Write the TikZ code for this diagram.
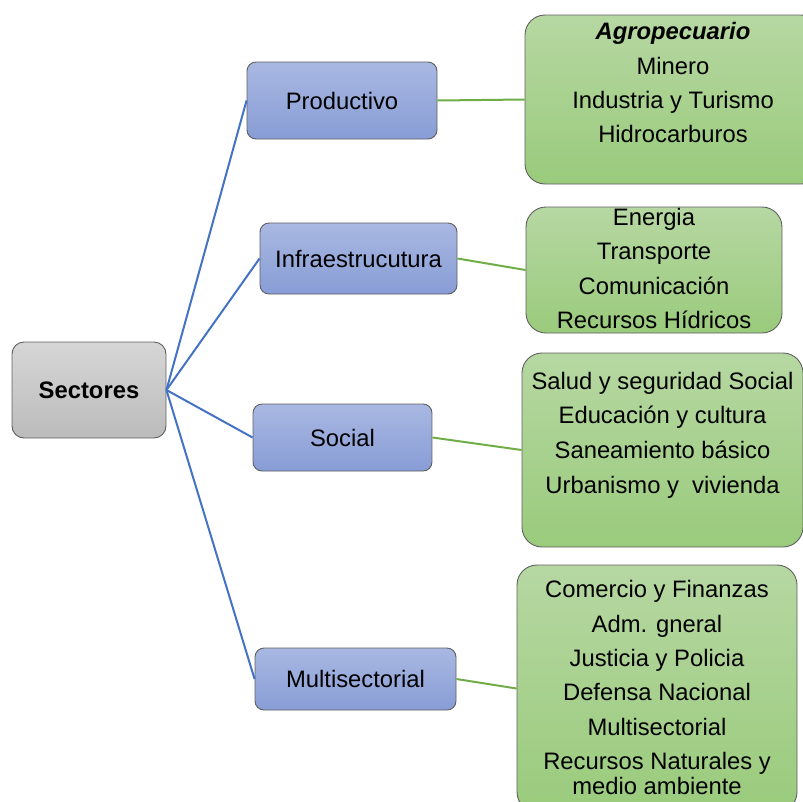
\documentclass[tikz,border=0pt]{standalone}
\usepackage{fontspec}
\setmainfont{Liberation Sans}
\definecolor{bluetop}{HTML}{A9B8E2}
\definecolor{bluebot}{HTML}{889DD6}
\definecolor{greytop}{HTML}{D6D6D6}
\definecolor{greybot}{HTML}{BBBBBB}
\definecolor{greentop}{HTML}{B6D7A2}
\definecolor{greenbot}{HTML}{9ACB7C}
\definecolor{boxline}{HTML}{5F5F5F}
\definecolor{bluelink}{HTML}{4472C4}
\definecolor{greenlink}{HTML}{70AD47}
\begin{document}
\begin{tikzpicture}[x=1pt,y=-1pt,
  boxbase/.style={draw=boxline, line width=0.9pt, inner sep=0pt},
  bluebox/.style={boxbase, rounded corners=9pt, top color=bluetop, bottom color=bluebot,
    font=\fontsize{23.8}{28}\selectfont},
  greybox/.style={boxbase, rounded corners=12pt, top color=greytop, bottom color=greybot,
    font=\fontsize{23.8}{28}\selectfont\bfseries},
  greenbox/.style={boxbase, rounded corners=20pt, top color=greentop, bottom color=greenbot},
  txt/.style={inner sep=0pt, anchor=base, font=\fontsize{23.8}{28}\selectfont},
  bluelinkstyle/.style={draw=bluelink, line width=2pt},
  greenlinkstyle/.style={draw=greenlink, line width=2pt}]
\useasboundingbox (0,0) rectangle (803,801);
\clip (0,0) rectangle (803,801);

% green boxes
\node (g1) [greenbox, minimum width=296pt, minimum height=169pt] at (673,99.5) {};
\node (g2) [greenbox, minimum width=256pt, minimum height=126pt] at (654,270) {};
\node (g3) [greenbox, minimum width=281pt, minimum height=194pt] at (662.5,450) {};
\node (g4) [greenbox, minimum width=280pt, minimum height=247pt] at (657,688.5) {};

% blue boxes
\node (prod) [bluebox, minimum width=190pt, minimum height=77pt] at (342,100.5) {Productivo};
\node (infra) [bluebox, minimum width=197pt, minimum height=71pt] at (358.5,258.5) {Infraestrucutura};
\node (soc) [bluebox, minimum width=179pt, minimum height=67pt] at (342.5,437.5) {Social};
\node (multi) [bluebox, minimum width=201pt, minimum height=62pt] at (355.5,679) {Multisectorial};

% root
\node (sect) [greybox, minimum width=154pt, minimum height=96pt] at (89,390) {Sectores};

% connectors
\draw[bluelinkstyle] (sect.east) -- (prod.west);
\draw[bluelinkstyle] (sect.east) -- (infra.west);
\draw[bluelinkstyle] (sect.east) -- (soc.west);
\draw[bluelinkstyle] (sect.east) -- (multi.west);
\draw[greenlinkstyle] (prod.east) -- (g1.west);
\draw[greenlinkstyle] (infra.east) -- (g2.west);
\draw[greenlinkstyle] (soc.east) -- (g3.west);
\draw[greenlinkstyle] (multi.east) -- (g4.west);

% texts
\node (g1l0) [txt] at (673,39) {\textbf{\textit{Agropecuario}}};
\foreach \t/\y [count=\i] in {Minero/74, Industria y Turismo/108, Hidrocarburos/142}
  \node (g1l\i) [txt] at (673,\y) {\t};
\foreach \t/\y [count=\i] in {Energia/225, Transporte/259, Comunicación/294, Recursos Hídricos/328}
  \node (g2l\i) [txt] at (654,\y) {\t};
\foreach \t/\y [count=\i] in {Salud y seguridad Social/389, Educación y cultura/423, Saneamiento básico/458, Urbanismo y\ \ vivienda/493}
  \node (g3l\i) [txt] at (662.5,\y) {\t};
\foreach \t/\y [count=\i] in {Comercio y Finanzas/597, Adm. gneral/632, Justicia y Policia/666, Defensa Nacional/700, Multisectorial/735, Recursos Naturales y/769, medio ambiente/794}
  \node (g4l\i) [txt] at (657,\y) {\t};
\end{tikzpicture}
\end{document}
